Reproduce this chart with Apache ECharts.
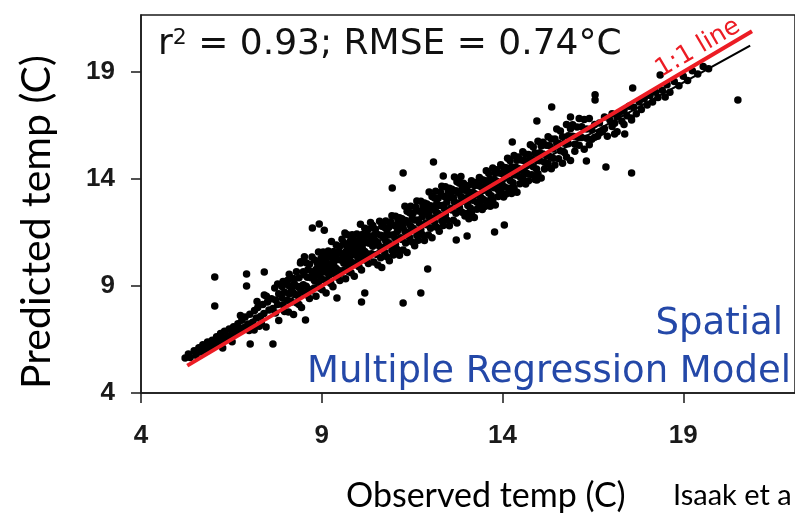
<!DOCTYPE html>
<html><head><meta charset="utf-8">
<script src="https://cdn.jsdelivr.net/npm/echarts@6/dist/echarts.min.js"></script>
<style>html,body{margin:0;padding:0;background:#fff}#c{width:795px;height:526px}</style>
</head><body><div id="c"></div>
<script>
// axis ticks
const xTicks = [4, 9, 14, 19];
const yTicks = [4, 9, 14, 19];

// [observed, predicted]
const coolSites = [[5.22,5.64],[5.31,5.82],[5.36,5.66],[5.47,5.97],[5.52,5.76],[5.6,6.11],[5.66,5.92],[5.71,6.25],[5.79,6.0],[5.84,6.38],[5.9,6.12],[5.97,6.47],[6.03,6.22],[6.09,6.63],[6.13,6.33],[6.2,6.78],[6.24,6.45],[6.31,6.88],[6.37,6.58],[6.44,6.99],[6.47,6.68],[6.56,7.1],[6.61,6.8],[6.68,7.24],[6.7,6.93],[6.79,7.4],[6.85,7.05],[6.88,7.55],[6.96,7.22],[7.01,7.68],[7.09,7.31],[7.14,7.86],[7.19,7.5],[7.23,8.0],[7.31,7.58],[7.37,8.14],[7.4,7.72],[7.5,8.25],[7.54,7.88],[7.61,8.4],[7.65,7.95],[6.52,6.4],[6.99,6.92],[7.33,7.25],[7.21,8.27],[7.47,8.52],[7.06,7.02],[6.75,7.62],[7.27,7.12]];

const mildSites = [[7.72,8.34],[7.72,7.74],[7.78,9.09],[7.78,8.13],[7.81,8.64],[7.81,7.39],[7.9,8.97],[7.9,8.45],[7.93,8.12],[7.93,9.21],[7.97,7.81],[7.97,8.71],[8.05,9.26],[8.05,8.33],[8.08,7.79],[8.08,9.02],[8.1,8.62],[8.1,9.55],[8.16,8.25],[8.16,8.84],[8.22,7.67],[8.22,9.35],[8.24,8.65],[8.24,9.11],[8.3,8.22],[8.3,9.66],[8.33,8.97],[8.33,8.56],[8.37,9.39],[8.37,8.14],[8.42,10.13],[8.42,8.8],[8.44,8.99],[8.44,7.99],[8.49,9.67],[8.49,9.06],[8.51,8.67],[8.51,9.52],[8.57,8.99],[8.57,10.08],[8.6,8.58],[8.6,9.41],[8.62,9.77],[8.62,8.87],[8.66,8.42],[8.66,10.02],[8.7,9.39],[8.7,8.78],[8.73,9.66],[8.73,10.35],[8.79,9.51],[8.79,8.91],[8.8,10.21],[8.8,9.25],[8.84,9.77],[8.84,8.52],[8.88,10.05],[8.88,9.53],[8.91,9.2],[8.91,10.59],[8.95,8.89],[8.95,9.79],[8.98,10.29],[8.98,9.36],[9.01,8.82],[9.01,10.05],[9.04,9.66],[9.04,10.59],[9.09,9.28],[9.09,9.87],[9.12,8.67],[9.12,10.35],[9.13,9.64],[9.13,10.1],[9.18,9.2],[9.18,10.64],[9.2,9.94],[9.2,9.53],[9.25,10.37],[9.25,9.12],[9.27,11.08],[9.27,9.75],[9.31,10.2],[9.31,8.96],[9.33,10.61],[9.33,10.0],[9.38,9.54],[9.38,10.39],[9.4,9.82],[9.4,10.91],[9.43,9.41],[9.43,10.24],[9.47,10.62],[9.47,9.72],[9.5,9.26],[9.5,10.86],[9.52,10.21],[9.52,9.6],[9.56,10.49],[9.56,11.18],[9.6,10.32],[9.6,9.72],[9.61,11.02],[9.61,10.06],[9.66,10.59],[9.66,9.34],[9.69,10.86],[9.69,10.34],[9.71,10.0],[9.71,11.39],[9.74,9.68],[9.74,10.58],[9.79,11.1],[9.79,10.17],[9.81,9.62],[9.81,10.85],[9.84,10.46],[9.84,11.39],[9.88,10.07],[9.88,10.66],[9.9,9.45],[9.9,11.13],[9.94,10.45],[9.94,10.91],[9.97,9.99],[9.97,11.43],[10.0,10.74],[10.0,10.33],[10.03,11.15],[10.03,9.9],[10.07,11.88],[10.07,10.55],[10.1,10.99],[10.1,9.75],[10.12,11.4],[10.12,10.79],[10.17,10.33],[10.17,11.18],[10.19,10.61],[10.19,11.7],[10.22,10.2],[10.22,11.03],[10.26,11.41],[10.26,10.51],[10.29,10.05],[10.29,11.65],[10.31,11.0],[10.31,10.39],[10.35,11.28],[10.35,11.97],[10.38,11.1],[10.38,10.5],[10.41,11.82],[10.41,10.86],[10.44,11.37],[10.44,10.12],[10.48,11.65],[10.48,11.13]];

const warmSites = [[10.52,10.47],[10.52,11.44],[10.55,11.03],[10.55,9.98],[10.6,12.02],[10.6,10.85],[10.63,11.37],[10.63,10.32],[10.66,11.79],[10.66,9.86],[10.7,11.27],[10.7,10.8],[10.74,11.73],[10.74,10.58],[10.77,11.1],[10.77,12.04],[10.8,10.36],[10.8,11.46],[10.85,11.02],[10.85,11.73],[10.87,10.18],[10.87,11.38],[10.91,11.99],[10.91,10.91],[10.94,10.67],[10.94,12.28],[10.98,11.39],[10.98,10.45],[11.02,11.81],[11.02,11.25],[11.04,12.26],[11.04,10.94],[11.09,11.54],[11.09,10.71],[11.11,12.06],[11.11,11.72],[11.15,10.43],[11.15,12.19],[11.19,11.25],[11.19,11.89],[11.22,11.17],[11.22,12.14],[11.25,11.73],[11.25,10.68],[11.3,12.72],[11.3,11.55],[11.32,12.06],[11.32,11.01],[11.36,12.49],[11.36,10.56],[11.39,11.96],[11.39,11.49],[11.43,12.42],[11.43,11.27],[11.46,11.79],[11.46,12.73],[11.5,11.06],[11.5,12.16],[11.53,11.7],[11.53,12.41],[11.57,10.88],[11.57,12.08],[11.6,12.68],[11.6,11.6],[11.63,11.36],[11.63,12.97],[11.67,12.08],[11.67,11.14],[11.7,12.49],[11.7,11.93],[11.74,12.96],[11.74,11.64],[11.78,12.23],[11.78,11.4],[11.8,12.75],[11.8,12.41],[11.84,11.12],[11.84,12.88],[11.88,11.94],[11.88,12.58],[11.91,11.86],[11.91,12.83],[11.95,12.43],[11.95,11.38],[11.97,13.39],[11.97,12.22],[12.01,12.75],[12.01,11.7],[12.05,13.18],[12.05,11.25],[12.08,12.65],[12.08,12.18],[12.12,13.11],[12.12,11.96],[12.15,12.48],[12.15,13.42],[12.18,11.74],[12.18,12.84],[12.22,12.39],[12.22,13.1],[12.25,11.56],[12.25,12.76],[12.29,13.37],[12.29,12.29],[12.32,12.05],[12.32,13.66],[12.36,12.77],[12.36,11.83],[12.39,13.18],[12.39,12.62],[12.42,13.64],[12.42,12.32],[12.46,12.91],[12.46,12.08],[12.5,13.45],[12.5,13.11],[12.53,11.81],[12.53,13.57],[12.57,12.63],[12.57,13.27],[12.6,12.55],[12.6,13.52],[12.64,13.12],[12.64,12.07],[12.67,14.09],[12.67,12.92],[12.71,13.45],[12.71,12.4],[12.74,13.87],[12.74,11.94],[12.78,13.35],[12.78,12.88],[12.81,13.8],[12.81,12.65],[12.85,13.18],[12.85,14.12],[12.88,12.44],[12.88,13.54],[12.92,13.09],[12.92,13.8],[12.96,12.27],[12.96,13.47]];

const hotSites = [[13.0,13.12],[13.0,12.39],[13.04,13.68],[13.04,12.76],[13.07,12.14],[13.07,13.38],[13.11,13.07],[13.11,12.64],[13.14,13.92],[13.14,12.4],[13.18,13.38],[13.18,13.0],[13.22,13.69],[13.22,12.2],[13.25,13.3],[13.25,13.84],[13.29,12.91],[13.29,12.59],[13.33,13.7],[13.33,13.24],[13.36,12.82],[13.36,14.07],[13.4,13.15],[13.4,13.65],[13.44,12.57],[13.44,13.96],[13.47,13.47],[13.47,13.04],[13.51,13.93],[13.51,12.71],[13.55,13.71],[13.55,14.38],[13.58,13.7],[13.58,12.97],[13.62,14.26],[13.62,13.34],[13.66,12.73],[13.66,13.97],[13.69,13.65],[13.69,13.22],[13.73,14.51],[13.73,12.99],[13.77,13.97],[13.77,13.59],[13.8,14.27],[13.8,12.78],[13.84,13.89],[13.84,14.43],[13.88,13.5],[13.88,13.18],[13.91,14.28],[13.91,13.82],[13.95,13.41],[13.95,14.66],[13.99,13.74],[13.99,14.24],[14.03,13.16],[14.03,14.55],[14.06,14.06],[14.06,13.63],[14.1,14.52],[14.1,13.3],[14.14,14.3],[14.14,14.97],[14.17,14.29],[14.17,13.56],[14.21,14.85],[14.21,13.93],[14.25,13.32],[14.25,14.56],[14.29,14.25],[14.29,13.82],[14.32,15.1],[14.32,13.58],[14.36,14.56],[14.36,14.18],[14.4,14.87],[14.4,13.38],[14.44,14.49],[14.44,15.03],[14.48,14.1],[14.48,13.78],[14.52,14.89],[14.52,14.43],[14.56,14.02],[14.56,15.27],[14.6,14.35],[14.6,14.85],[14.64,13.77],[14.64,15.16],[14.68,14.68],[14.68,14.25],[14.72,15.14],[14.72,13.92],[14.77,14.93],[14.77,15.6],[14.81,14.93],[14.81,14.2],[14.85,15.49],[14.85,14.57],[14.9,13.97],[14.9,15.21],[14.94,14.9],[14.94,14.47],[14.98,15.76],[14.98,14.24],[15.03,15.23],[15.03,14.85],[15.07,15.54],[15.07,14.05],[15.12,15.17],[15.12,15.71],[15.16,14.78],[15.16,14.46],[15.21,15.58],[15.21,15.12],[15.26,14.72],[15.26,15.97],[15.3,15.05],[15.3,15.55],[15.35,14.48],[15.35,15.87],[15.4,15.4],[15.4,14.97],[15.45,15.87],[15.45,14.65],[15.5,15.66],[15.5,16.33],[15.55,15.67],[15.55,14.94],[15.6,16.24],[15.6,15.32],[15.66,14.73],[15.66,15.97],[15.71,15.67],[15.71,15.24],[15.77,16.55],[15.77,15.03],[15.82,16.02],[15.82,15.64],[15.88,16.35],[15.88,14.86],[15.94,15.99],[15.94,16.53],[16.0,15.62],[16.0,15.3],[16.06,16.43],[16.06,15.97],[16.12,15.58],[16.12,16.83],[16.19,15.94],[16.19,16.44],[16.26,15.39],[16.26,16.78],[16.33,16.33],[16.33,15.9],[16.4,16.82],[16.4,15.6]];

const hottestSites = [[16.47,16.3],[16.47,15.85],[16.55,16.55],[16.55,15.95],[16.63,16.0],[16.68,16.62],[16.68,16.15],[16.76,16.2],[16.82,16.9],[16.82,16.35],[16.9,16.0],[16.97,16.75],[17.03,16.45],[17.03,17.05],[17.1,16.6],[17.17,16.9],[17.17,16.2],[17.24,17.1],[17.3,16.7],[17.36,17.2],[17.36,16.55],[17.44,16.95],[17.5,17.4],[17.56,16.85],[17.63,17.35],[17.7,17.05],[17.78,17.6],[17.84,17.25],[17.92,17.75],[18.0,17.45],[18.08,17.9],[18.15,17.6],[18.24,18.05],[18.3,17.8],[18.42,18.15],[18.55,18.4],[18.63,18.05],[18.75,18.55],[18.88,18.35],[19.0,18.8],[19.12,18.6],[19.25,19.05],[19.4,18.9],[19.55,19.25],[19.7,19.15]];

const outlierSites = [[6.04,9.42],[6.04,8.07],[6.92,9.56],[6.92,9.0],[7.41,9.65],[7.02,6.29],[7.65,6.29],[6.26,6.1],[7.41,8.58],[7.7,8.9],[7.13,6.94],[7.46,7.08],[8.74,11.71],[8.93,11.9],[9.07,11.6],[9.64,11.48],[8.55,7.41],[8.52,10.36],[8.41,10.07],[10.1,8.25],[10.19,8.67],[9.42,8.44],[10.95,13.58],[11.25,14.28],[12.09,14.79],[12.36,14.14],[11.25,8.2],[11.74,8.67],[11.93,9.79],[20.51,17.69],[17.57,14.28],[16.86,14.56],[16.32,14.84],[17.38,16.1],[17.57,16.76],[17.6,18.25],[16.56,17.93],[16.56,17.69],[18.36,18.86],[15.36,17.36],[14.95,16.71],[14.27,15.73],[13.78,11.52],[14.05,11.85],[13.02,11.34],[12.72,11.15],[14.95,13.95],[15.88,16.9],[18.5,17.83],[17.1,16.1]];

// line end points
const oneToOneLine = [[5.28,5.28],[20.9,20.9]];
const fitLine = [[5.3,5.74],[20.85,20.23]];

const groups = [coolSites, mildSites, warmSites, hotSites, hottestSites, outlierSites];

const chart = echarts.init(document.getElementById('c'), null, {renderer:'canvas'});
const tickFont = {fontFamily:'"Liberation Sans", Arial, sans-serif', fontWeight:'bold', fontSize:26, color:'#1a1a1a'};
const axisCol = '#1a1a1a';
const comic = '"DejaVu Sans", sans-serif';
const option = {
  animation:false,
  backgroundColor:'#fff',
  grid:{left:141, top:15, right:-10, bottom:133, show:true, borderColor:axisCol, borderWidth:1.5, backgroundColor:'transparent'},
  xAxis:{type:'value', min:4, max:22.09, interval:5,
    axisLine:{show:true, onZero:false, lineStyle:{color:axisCol, width:1.5}},
    axisTick:{show:true, length:10, customValues:xTicks, lineStyle:{color:axisCol, width:1.5}},
    axisLabel:Object.assign({customValues:xTicks, margin:30}, tickFont),
    splitLine:{show:false}},
  yAxis:{type:'value', min:4, max:21.66, interval:5,
    axisLine:{show:true, onZero:false, lineStyle:{color:axisCol, width:1.5}},
    axisTick:{show:true, length:10, customValues:yTicks, lineStyle:{color:axisCol, width:1.5}},
    axisLabel:Object.assign({customValues:yTicks, margin:26}, tickFont),
    splitLine:{show:false}},
  series: groups.map(g => ({type:'scatter', data:g, symbol:'circle', symbolSize:7.5, itemStyle:{color:'#000', opacity:1}, z:2})).concat([
    {type:'line', data:fitLine, symbol:'none', lineStyle:{color:'#000', width:2.2}, z:3},
    {type:'line', data:oneToOneLine, symbol:'none', lineStyle:{color:'#ec1c24', width:4}, z:4}
  ]),
  graphic:[
    {type:'text', x:158, y:45, z:10, style:{text:'{a|r}{s|2}{a| = 0.93; RMSE = 0.74°C}', verticalAlign:'middle',
      rich:{a:{fontSize:36, fontFamily:comic, fill:'#111'}, s:{fontSize:22, fontFamily:comic, fill:'#111', verticalAlign:'top'}}}},
    {type:'text', x:698, y:48, rotation:0.529, z:10, style:{text:'1:1 line', fontSize:25, fontFamily:comic, fill:'#ec1c24', align:'center', verticalAlign:'middle'}},
    {type:'text', x:783, y:324, z:10, style:{text:'Spatial', fontSize:37, fontFamily:comic, fill:'#2448a8', align:'right', verticalAlign:'middle'}},
    {type:'text', x:307, y:372, z:10, style:{text:'Multiple Regression Model', fontSize:37, fontFamily:comic, fill:'#2448a8', align:'left', verticalAlign:'middle'}},
    {type:'text', x:37, y:222, rotation:Math.PI/2, z:10, style:{text:'Predicted temp (C)', fontSize:41, fontFamily:'Lato, sans-serif', fill:'#000', align:'center', verticalAlign:'middle'}},
    {type:'text', x:346, y:496, z:10, style:{text:'Observed temp (C)', fontSize:34, fontFamily:'Lato, sans-serif', fill:'#000', align:'left', verticalAlign:'middle'}},
    {type:'text', x:673, y:496, z:10, style:{text:'Isaak et a', fontSize:29, fontFamily:'Lato, sans-serif', fill:'#000', align:'left', verticalAlign:'middle'}}
  ]
};
chart.setOption(option);
</script></body></html>
